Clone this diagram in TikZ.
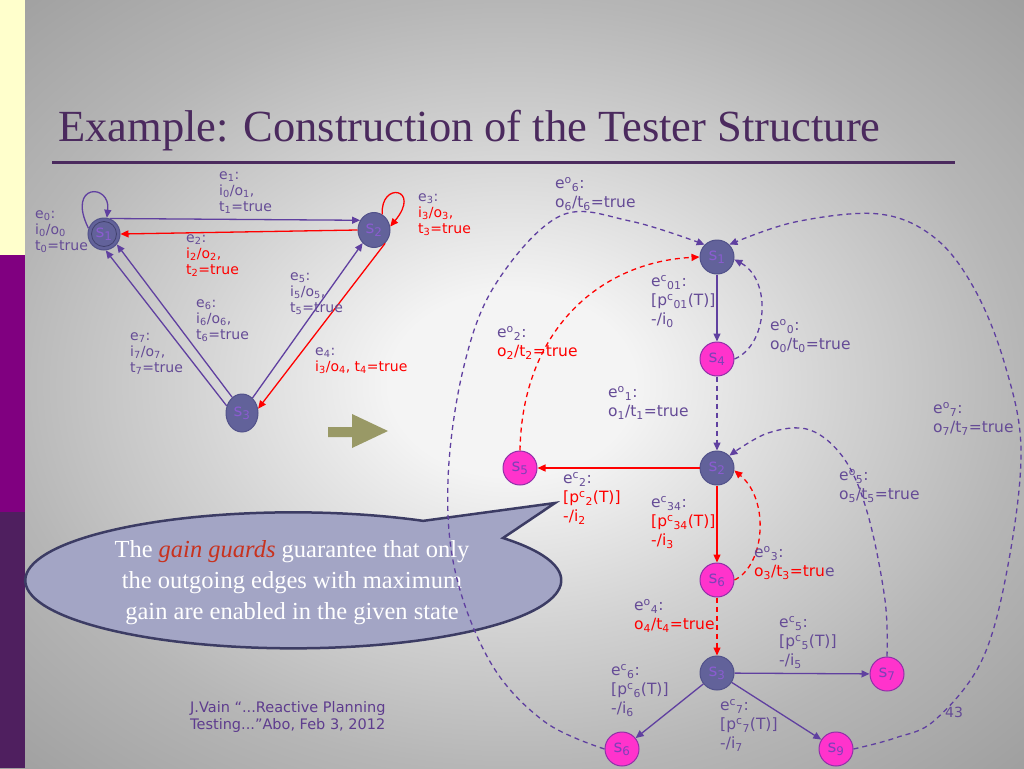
\documentclass[tikz,border=0pt]{standalone}
\usepackage{fontspec}
\setmainfont{Liberation Serif}
\newfontfamily\labfont{DejaVu Sans}
\usetikzlibrary{arrows.meta,shapes.geometric,calc}
\definecolor{pur}{HTML}{654B96}
\definecolor{edgep}{HTML}{6040A0}
\definecolor{slate}{HTML}{62629A}
\definecolor{slateb}{HTML}{52528A}
\definecolor{mag}{HTML}{FF33CC}
\definecolor{magb}{HTML}{9030A8}
\definecolor{nodetxt}{HTML}{8A5CD0}
\definecolor{magtxt}{HTML}{8040B8}
\definecolor{titlec}{HTML}{4B2A5E}
\definecolor{redc}{HTML}{FF0000}
\definecolor{olivec}{HTML}{999966}
\definecolor{callfill}{HTML}{A3A5C5}
\definecolor{callb}{HTML}{3C3C64}
\definecolor{stripy}{HTML}{FFFFCC}
\definecolor{stripp}{HTML}{800080}
\definecolor{stripd}{HTML}{4F1F5F}
\definecolor{footc}{HTML}{5E3C8E}
\definecolor{gainc}{HTML}{C8321E}
\definecolor{bgA}{HTML}{F4F4F4}
\definecolor{bgB}{HTML}{D2D2D2}
\definecolor{bgC}{HTML}{B6B6B6}
\definecolor{bgD}{HTML}{9E9E9E}
\pgfdeclareradialshading{bgshade}{\pgfpoint{0bp}{0bp}}{color(0bp)=(bgA); color(6bp)=(bgA); color(16bp)=(bgB); color(25bp)=(bgC); color(36bp)=(bgD); color(50bp)=(bgD)}
\newcommand\dn[1]{\textsubscript{#1}}
\newcommand\up[1]{\textsuperscript{#1}}
\tikzset{
  lab/.style={anchor=north west, inner sep=0pt, align=left, text=pur, font=\labfont\fontsize{14}{16}\selectfont},
  rlab/.style={lab, font=\labfont\fontsize{15.5}{19}\selectfont},
  arr/.style={-{Triangle[length=8pt,width=7pt]}},
  pline/.style={draw=edgep, line width=1.3pt, arr},
  rline/.style={draw=redc, line width=1.3pt, arr},
  dpur/.style={pline, dash pattern=on 5pt off 4pt},
  dred/.style={rline, dash pattern=on 5pt off 4pt},
  lstate/.style={ellipse, draw=slateb, fill=slate, text=nodetxt, inner sep=0pt, line width=1pt, font=\labfont\fontsize{17}{17}\selectfont},
  rdark/.style={circle, draw=slateb, fill=slate, text=nodetxt, minimum size=34pt, inner sep=0pt, line width=1pt, font=\labfont\fontsize{17}{17}\selectfont},
  rmag/.style={circle, draw=magb, fill=mag, text=magtxt, minimum size=34pt, inner sep=0pt, line width=1pt, font=\labfont\fontsize{17}{17}\selectfont},
}
\begin{document}
\begin{tikzpicture}[x=1pt,y=-1pt]
\useasboundingbox (0,0) rectangle (1024,768);
% background
\shade[shading=bgshade] (0,0) rectangle (1024,768);
\fill[stripy] (0,0) rectangle (25,255);
\fill[stripp] (0,255) rectangle (25,512);
\fill[stripd] (0,512) rectangle (25,768);
% title
\node[anchor=base west, inner sep=0pt, text=titlec, font=\fontsize{44.5}{44.5}\selectfont] (title) at (58,141) {Example: Construction of the Tester Structure};
\draw[titlec, line width=3pt] (52,162) -- (955,162);

% ---------- left graph ----------
\node[lstate, minimum width=32pt, minimum height=32pt] (L1) at (104,234) {s\dn1};
\draw[slateb!80!black, line width=0.8pt] (L1.center) ellipse (12.5 and 12.5);
\node[lstate, minimum width=32pt, minimum height=35pt] (L2) at (374,230) {s\dn2};
\node[lstate, minimum width=32pt, minimum height=38pt] (L3) at (242,413) {s\dn3};

\draw[pline] (L1.70) -- (L2.145);
\draw[rline] (L2.west) -- (L1.east);
\draw[pline] (L3.155) -- (L1.-84);
\draw[pline] (L3.122) -- (L1.-39);
\draw[pline] (L3.55) -- (L2.229);
\draw[rline] (L2.-50) -- (L3.15);
\draw[pline] (L1.160) .. controls (66,183) and (111,183) .. (L1.80);
\draw[rline] (L2.62) .. controls (380,181) and (422,188) .. (L2.12);

\node[lab] (le1) at (219,171) {e\dn1:\\i\dn0/o\dn1,\\t\dn1=true};
\node[lab] (le0) at (35,210) {e\dn0:\\i\dn0/o\dn0\\t\dn0=true};
\node[lab] (le2) at (186,234) {e\dn2:\\\textcolor{redc}{i\dn2/o\dn2,}\\\textcolor{redc}{t\dn2=true}};
\node[lab] (le3) at (418,193) {e\dn3:\\\textcolor{redc}{i\dn3/o\dn3,}\\\textcolor{redc}{t\dn3=true}};
\node[lab] (le5) at (290,272) {e\dn5:\\i\dn5/o\dn5,\\t\dn5=true};
\node[lab] (le6) at (196,299) {e\dn6:\\i\dn6/o\dn6,\\t\dn6=true};
\node[lab] (le7) at (130,332) {e\dn7:\\i\dn7/o\dn7,\\t\dn7=true};
\node[lab] (le4) at (315,347) {e\dn4:\\\textcolor{redc}{i\dn3/o\dn4, t\dn4=true}};

% olive arrow
\fill[olivec] (328,427) -- (352,427) -- (352,414) -- (388,431) -- (352,448) -- (352,437) -- (328,437) -- cycle;

% callout
\draw[fill=callfill, draw=callb, line width=2.5pt] (555,503) -- (503,538) arc[start angle=-38.5, end angle=299, x radius=268, y radius=68] -- cycle;
\node[align=center, text=white, inner sep=0pt, font=\fontsize{24.5}{31}\selectfont] (callt) at (292,583) {The \textcolor{gainc}{\textit{gain guards}} guarantee that only\\the outgoing edges with maximum\\gain are enabled in the given state};

% ---------- right graph ----------
\node[rdark] (R1) at (717,257) {s\dn1};
\node[rmag]  (R4) at (717,359) {s\dn4};
\node[rdark] (R2) at (717,468) {s\dn2};
\node[rmag]  (R5) at (520,468) {s\dn5};
\node[rmag]  (R6) at (717,580) {s\dn6};
\node[rdark] (R3) at (717,673) {s\dn3};
\node[rmag]  (R7) at (887,674) {s\dn7};
\node[rmag]  (R6b) at (622,749) {s\dn6};
\node[rmag]  (R9) at (836,749) {s\dn9};

\draw[pline] (R1) -- (R4);
\draw[dpur] (R4.east) .. controls (768,345) and (772,280) .. (R1.-8);
\draw[dpur] (R4) -- (R2);
\draw[rline] (R2) -- (R5);
\draw[rline] (R2) -- (R6);
\draw[dred] (R6.east) .. controls (765,565) and (770,500) .. (R2.-8);
\draw[dred] (R6) -- (R3);
\draw[pline] (R3) -- (R7);
\draw[pline] (R3) -- (R6b);
\draw[pline] (R3) -- (R9);
\draw[dred] (R5.north) .. controls (522,330) and (600,262) .. (R1.west);
\draw[dpur] plot[smooth, tension=0.6] coordinates {(R6b.west) (545,722) (492,665) (456,575) (448,480) (463,370) (495,285) (560,216) (630,221) (R1.135)};
\draw[dpur] plot[smooth, tension=0.6] coordinates {(R9.east) (895,738) (935,720) (982,660) (1008,565) (1021,450) (1005,365) (975,290) (935,238) (879,214) (795,222) (R1.45)};
\draw[dpur] plot[smooth, tension=0.6] coordinates {(R7.north) (885,600) (868,515) (845,460) (810,430) (768,433) (R2.45)};

\node[rlab] (re6) at (555,177) {e\up{o}\dn6:\\o\dn6/t\dn6=true};
\node[rlab] (rec01) at (651,275) {e\up{c}\dn{01}:\\{[}p\up{c}\dn{01}(T)]\\-/i\dn0};
\node[rlab] (re2) at (497,326) {e\up{o}\dn2:\\\textcolor{redc}{o\dn2/t\dn2=true}};
\node[rlab] (re0) at (770,319) {e\up{o}\dn0:\\o\dn0/t\dn0=true};
\node[rlab] (re1) at (608,386) {e\up{o}\dn1:\\o\dn1/t\dn1=true};
\node[rlab] (re7) at (933,402) {e\up{o}\dn7:\\o\dn7/t\dn7=true};
\node[rlab] (rec2) at (563,472) {e\up{c}\dn2:\\\textcolor{redc}{[p\up{c}\dn2(T)]}\\\textcolor{redc}{-/i\dn2}};
\node[rlab] (rec34) at (651,496) {e\up{c}\dn{34}:\\\textcolor{redc}{[p\up{c}\dn{34}(T)]}\\\textcolor{redc}{-/i\dn3}};
\node[rlab] (re5) at (839,469) {e\up{o}\dn5:\\o\dn5/t\dn5=true};
\node[rlab] (re3) at (754,546) {e\up{o}\dn3:\\\textcolor{redc}{o\dn3/t\dn3=tru}e};
\node[rlab] (re4) at (634,599) {e\up{o}\dn4:\\\textcolor{redc}{o\dn4/t\dn4=true}};
\node[rlab] (rec5) at (779,616) {e\up{c}\dn5:\\{[}p\up{c}\dn5(T)]\\-/i\dn5};
\node[rlab] (rec6) at (611,664) {e\up{c}\dn6:\\{[}p\up{c}\dn6(T)]\\-/i\dn6};
\node[rlab] (rec7) at (720,699) {e\up{c}\dn7:\\{[}p\up{c}\dn7(T)]\\-/i\dn7};

% footer
\node[lab, text=footc, font=\labfont\fontsize{14.5}{17}\selectfont] (foot) at (190,701) {J.Vain “...Reactive Planning\\Testing...”Abo, Feb 3, 2012};
\node[lab, text=pur, font=\labfont\fontsize{14}{16}\selectfont] (pnum) at (945,707) {43};
\end{tikzpicture}
\end{document}
